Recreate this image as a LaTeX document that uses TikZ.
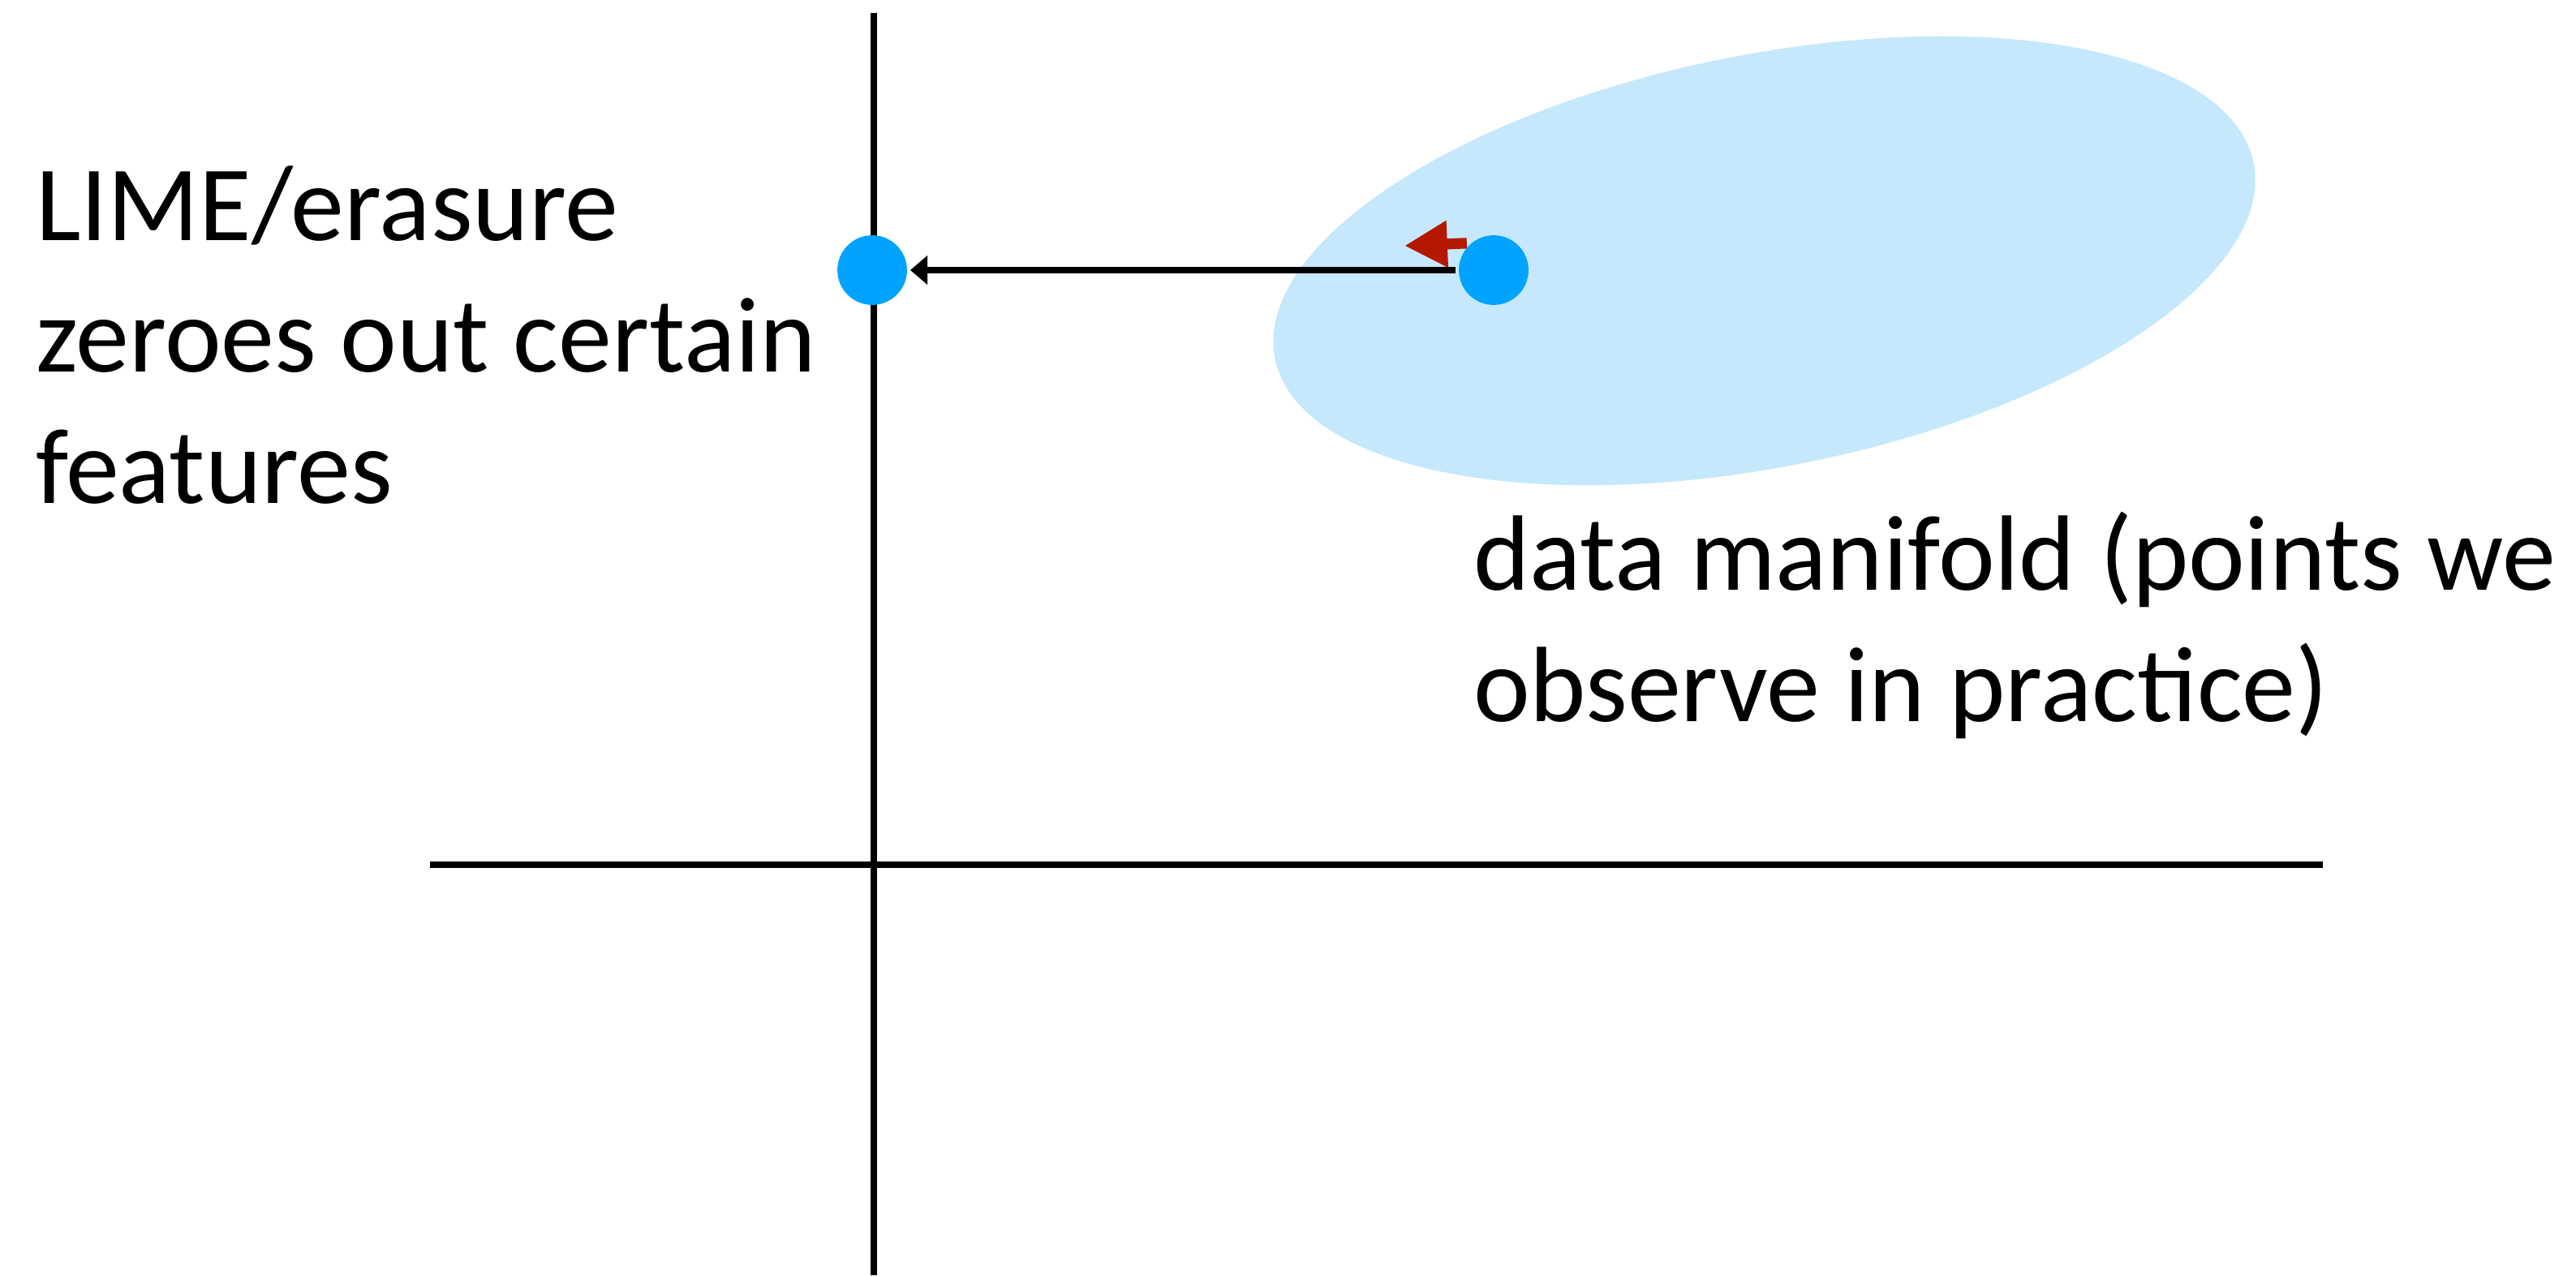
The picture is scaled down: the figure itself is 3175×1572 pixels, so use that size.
\documentclass[tikz,border=0pt]{standalone}
\usepackage{fontspec}
\setmainfont{Carlito}
\usetikzlibrary{arrows.meta}
\definecolor{ptblue}{RGB}{0,163,255}
\definecolor{manifold}{RGB}{197,232,252}
\definecolor{darkred}{RGB}{181,24,0}

\begin{document}
\begin{tikzpicture}[x=0.212pt,y=0.212pt,line width=1.7pt,
  pt/.style={circle,fill=ptblue,minimum size=18.2pt,inner sep=0pt},
  lbl/.style={align=left,inner sep=0pt,font=\fontsize{28}{34.3}\selectfont}]
\useasboundingbox (0,0) rectangle (3175,1572);
\fill[manifold,rotate around={11.3:(2174.5,1250.5)}] (2174.5,1250.5) ellipse[x radius=615,y radius=254];
\draw (1077,0)--(1077,1556);
\draw (530,506)--(2863,506);
\node[pt] (zero) at (1075,1239) {};
\node[pt] (x) at (1841,1239) {};
\draw[-{Triangle[length=4.5pt,width=7.4pt]}] (x)--(zero);
\coordinate (nudge) at (1731,1269);
\draw[darkred,line width=2.8pt,-{Triangle[length=11.2pt,width=11.5pt]}] (x.north west)--(nudge);
\node[lbl,anchor=base west] (lime) at (40,952) {LIME/erasure\\zeroes out certain\\features};
\node[lbl,anchor=base west] (mfd) at (1812,683) {data manifold (points we\\observe in practice)};
\end{tikzpicture}
\end{document}
